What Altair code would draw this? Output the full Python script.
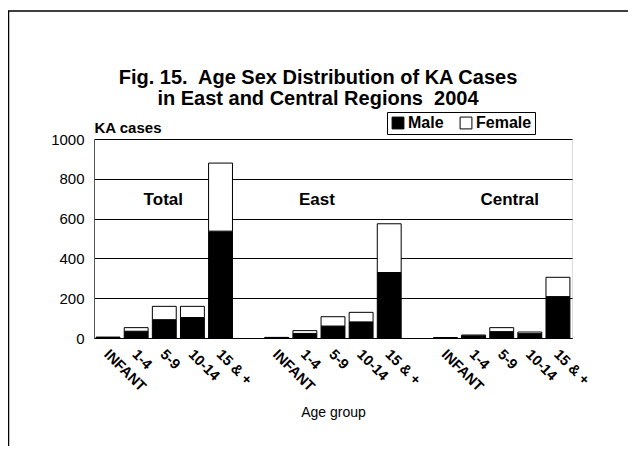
import altair as alt
import pandas as pd

regions = ["Total", "East", "Central"]
age_groups = ["INFANT", "1-4", "5-9", "10-14", "15 & +"]
male = {
    "Total": [3, 34, 92, 103, 537],
    "East": [2, 23, 60, 81, 329],
    "Central": [1, 11, 32, 22, 208],
}
female = {
    "Total": [1, 18, 67, 56, 342],
    "East": [1, 14, 47, 48, 245],
    "Central": [0, 4, 20, 8, 97],
}
sexes = ["Male", "Female"]
sex_colors = ["#000000", "#ffffff"]
y_ticks = [0, 200, 400, 600, 800, 1000]

# slots on the category axis (with an empty slot between regions)
slots = []
for i, r in enumerate(regions):
    if i > 0:
        slots.append(f"gap{i}|")
    for a in age_groups:
        slots.append(f"{r}|{a}")

rows = []
for r in regions:
    for j, a in enumerate(age_groups):
        rows.append({"slot": f"{r}|{a}", "sex": "Male", "value": male[r][j], "ord": 0})
        rows.append({"slot": f"{r}|{a}", "sex": "Female", "value": female[r][j], "ord": 1})
df = pd.DataFrame(rows)

FONT = "Liberation Sans"

x_axis = alt.Axis(
    labelExpr="split(datum.value, '|')[1]",
    labelAngle=45,
    labelAlign="left",
    labelBaseline="top",
    labelFontSize=14.5,
    labelFontWeight="bold",
    labelFont=FONT,
    labelColor="black",
    labelPadding=9,
    labelOffset=3,
    labelOverlap=False,
    ticks=False,
    tickSize=0,
    domainColor="black",
    title="Age group",
    titleFont=FONT,
    titleFontSize=14,
    titleFontWeight="normal",
    titleColor="black",
    titleY=78,
    titleBaseline="alphabetic",
)
x_scale = alt.Scale(domain=slots, paddingInner=0.15, paddingOuter=0.075)

y_axis = alt.Axis(
    values=y_ticks,
    format="d",
    labelFontSize=15,
    labelFont=FONT,
    labelColor="black",
    labelPadding=10,
    labelOverlap=False,
    labelFlush=False,
    ticks=False,
    tickSize=0,
    grid=True,
    gridColor="black",
    gridOpacity=1,
    gridWidth=1,
    domainColor="#555555",
    title="KA cases",
    titleAngle=0,
    titleX=0,
    titleY=-7,
    titleAlign="left",
    titleBaseline="alphabetic",
    titleFont=FONT,
    titleFontSize=15,
    titleFontWeight="bold",
    titleColor="black",
)
y_scale = alt.Scale(domain=[0, 1000], nice=False)

bars = alt.Chart(df).mark_bar(stroke="black", strokeWidth=1).encode(
    x=alt.X("slot:N", scale=x_scale, axis=x_axis),
    y=alt.Y("value:Q", stack="zero", scale=y_scale, axis=y_axis),
    color=alt.Color(
        "sex:N",
        scale=alt.Scale(domain=sexes, range=sex_colors),
        legend=alt.Legend(
            title=None,
            orient="none",
            legendX=293,
            legendY=-27,
            direction="horizontal",
            strokeColor="black",
            fillColor="white",
            padding=3,
            symbolType="square",
            symbolSize=140,
            symbolStrokeColor="black",
            symbolStrokeWidth=1,
            labelFont=FONT,
            labelFontSize=16,
            labelFontWeight="bold",
            labelColor="black",
            labelOffset=2,
            columnPadding=14,
        ),
    ),
    order=alt.Order("ord:Q"),
)

labels_df = pd.DataFrame(
    {"label": regions, "slot": ["Total|5-9", "East|1-4", "Central|5-9"], "value": [693, 693, 693]}
)
label_dx = [-1, 12, 8]
label_layers = []
for i, r in enumerate(regions):
    label_layers.append(
        alt.Chart(labels_df[labels_df["label"] == r])
        .mark_text(font=FONT, fontSize=17, fontWeight="bold", color="black", baseline="middle", dx=label_dx[i])
        .encode(
            x=alt.X("slot:N", scale=x_scale, axis=x_axis),
            y=alt.Y("value:Q", scale=y_scale, axis=y_axis),
            text="label:N",
        )
    )

border = alt.Chart(alt.Data(values=[{}])).mark_rect(
    fill="transparent", stroke="black", strokeWidth=1.5
).encode(
    x=alt.value(-85.5), x2=alt.value(700), y=alt.value(-128), y2=alt.value(700)
)

chart = alt.layer(bars, *label_layers, border).properties(
    width=478,
    height=199,
    autosize=alt.AutoSizeParams(type="none"),
    padding={"left": 86, "top": 131, "right": 56, "bottom": 108},
    title=alt.Title(
        ["Fig. 15.\u00a0 Age Sex Distribution of KA Cases", "in East and Central Regions\u00a0 2004"],
        font=FONT,
        fontSize=20,
        fontWeight="bold",
        color="black",
        anchor="middle",
        dx=-15,
        dy=107,
        offset=8,
        lineHeight=21,
    ),
).configure_view(stroke="#555555", strokeWidth=1).configure(font=FONT, background="white")

chart.save("out.html", embed_options={"renderer": "svg", "actions": False})
